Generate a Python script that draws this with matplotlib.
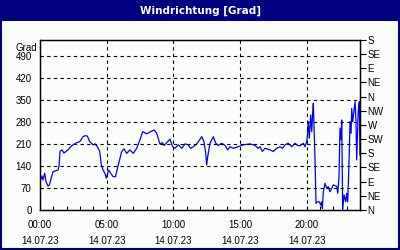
import numpy as np
import matplotlib.pyplot as plt
from matplotlib.patches import Rectangle

# wind direction readings, hours since 14.07.23 00:00
hours = [0.05, 0.15, 0.22, 0.35, 0.45, 0.6, 0.71, 0.83, 0.98, 1.2, 1.35, 1.43, 1.5, 1.65, 1.8,
         2.1, 2.35, 2.7, 2.98, 3.23, 3.38, 3.55, 3.73, 3.98, 4.13, 4.3, 4.48, 4.6, 4.73, 4.88,
         4.97, 5.15, 5.3, 5.48, 5.66, 5.87, 6.13, 6.3, 6.5, 6.75, 7.0, 7.25, 7.5, 7.7, 8.0,
         8.3, 8.55, 8.75, 8.89, 9.0, 9.17, 9.3, 9.5, 9.75, 9.95, 10.13, 10.37, 10.63, 10.88,
         11.12, 11.29, 11.5, 11.75, 11.87, 12.13, 12.3, 12.43, 12.5, 12.58, 12.75, 13.0, 13.18,
         13.37, 13.63, 13.88, 14.08, 14.25, 14.5, 14.87, 15.25, 15.75, 16.13, 16.35, 16.5,
         16.67, 16.88, 17.25, 17.5, 17.75, 18.0, 18.19, 18.38, 18.62, 18.88, 19.13, 19.31,
         19.5, 19.75, 19.88, 20.0, 20.05, 20.12, 20.2, 20.3, 20.38, 20.45, 20.5, 20.55, 20.63,
         20.7, 20.8, 20.95, 21.05, 21.13, 21.17, 21.25, 21.38, 21.5, 21.62, 21.75, 21.88, 22.0,
         22.13, 22.25, 22.33, 22.42, 22.5, 22.58, 22.63, 22.7, 22.8, 22.93, 23.0, 23.08, 23.2,
         23.25, 23.33, 23.38, 23.45, 23.5, 23.63, 23.7, 23.75, 23.87, 23.95, 24.0]
grad = [98, 108, 95, 117, 90, 76, 80, 100, 122, 125, 127, 140, 186, 191, 181,
        191, 203, 213, 217, 233, 236, 235, 217, 207, 210, 201, 186, 143, 127, 115,
        101, 127, 117, 106, 106, 143, 186, 194, 180, 191, 180, 196, 223, 249, 242,
        249, 254, 244, 225, 209, 214, 205, 214, 225, 201, 196, 207, 196, 210,
        207, 196, 201, 210, 217, 233, 217, 180, 143, 170, 212, 233, 212,
        205, 212, 205, 191, 201, 196, 201, 207, 210, 205, 196, 201,
        186, 196, 191, 186, 196, 201, 196, 207, 212, 201, 212, 205,
        204, 212, 201, 217, 233, 281, 228, 302, 249, 307, 339, 270, 154,
        21, 26, 26, 16, 26, 5, 58, 85, 69, 74, 58, 69, 80,
        77, 75, 53, 101, 260, 223, 286, 0, 48, 26, 53, 26, 186,
        281, 244, 323, 280, 297, 344, 281, 159, 318, 344, 175]

left_ticks = [0, 70, 140, 210, 280, 350, 420, 490]
right_ticks = [0, 45, 90, 135, 180, 225, 270, 315, 360, 405, 450, 495, 540]
right_labels = ['N', 'NE', 'E', 'SE', 'S', 'SW', 'W', 'NW', 'N', 'NE', 'E', 'SE', 'S']
x_ticks = [0, 5, 10, 15, 20]
x_labels = ['00:00\n14.07.23', '05:00\n14.07.23', '10:00\n14.07.23',
            '15:00\n14.07.23', '20:00\n14.07.23']

navy = '#000080'
plt.rcParams['font.family'] = ['Liberation Sans', 'DejaVu Sans']

fig = plt.figure(figsize=(4, 2.5), dpi=100)
fig.patch.set_facecolor('#fbfdfb')

# title bar and frame
fig.patches.append(Rectangle((0, 0.918), 1, 0.082, transform=fig.transFigure,
                             facecolor=navy, edgecolor='none'))
fig.patches.append(Rectangle((0.002, 0.004), 0.996, 0.99, transform=fig.transFigure,
                             facecolor='none', edgecolor=navy, linewidth=1.5))
fig.text(0.5, 0.958, 'Windrichtung [Grad]', color='white', fontsize=7.5, fontweight='bold',
         ha='center', va='center', family=['DejaVu Sans'])

ax = fig.add_axes([0.1, 0.16, 0.8, 0.68])
ax.set_facecolor('#fbfdfb')
ax.plot(hours, grad, color='#0000ff', linewidth=0.9)
ax.set_xlim(0, 24)
ax.set_ylim(0, 540)

ax.set_yticks(left_ticks)
ax.set_yticklabels([str(t) for t in left_ticks])
ax.set_xticks(x_ticks)
ax.set_xticklabels(x_labels, linespacing=1.75)
ax.set_xticks(range(25), minor=True)
ax.tick_params(axis='x', which='both', direction='in', length=3, width=0.8,
               labelsize=7, pad=7)
ax.tick_params(axis='y', length=0, labelsize=7, pad=6)

for t in left_ticks[1:]:
    ax.axhline(t, color='black', linestyle=(0, (3, 3)), linewidth=0.8)
for t in x_ticks[1:]:
    ax.axvline(t, color='black', linestyle=(0, (3, 3)), linewidth=0.8)

ax2 = ax.twinx()
ax2.set_ylim(0, 540)
ax2.set_yticks(right_ticks)
ax2.set_yticklabels(right_labels)
ax2.tick_params(axis='y', direction='out', length=4, width=0.8, labelsize=7, pad=1.5)

for a in (ax, ax2):
    for s in a.spines.values():
        s.set_linewidth(0.9)

ax.text(-0.01, 0.955, 'Grad', transform=ax.transAxes, ha='right', va='center', fontsize=7)

fig.savefig('out.png', dpi=100, facecolor=fig.get_facecolor())
